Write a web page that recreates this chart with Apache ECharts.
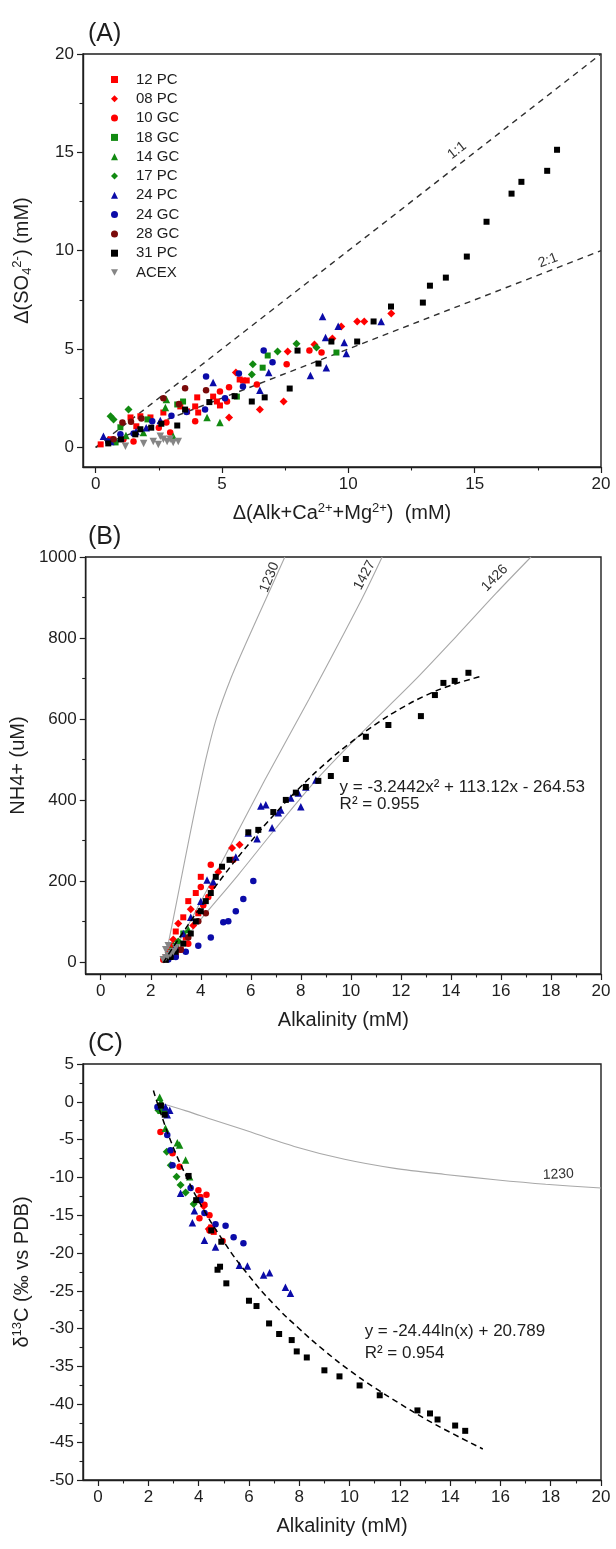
<!DOCTYPE html>
<html><head><meta charset="utf-8">
<script src="https://cdn.jsdelivr.net/npm/echarts@6/dist/echarts.min.js"></script>
<style>html,body{margin:0;padding:0;background:#fff}#c{width:616px;height:1549px}</style>
</head><body><div id="c"></div>
<script>
// ---------------- DATA ----------------
const seriesNames = ['12 PC','08 PC','10 GC','18 GC','14 GC','17 PC','24 PC','24 GC','28 GC','31 PC','ACEX'];

// Panel A: Δ(Alk+Ca+Mg) vs Δ(SO4)
const A_12PC = [[5.7,3.45],[5.83,3.4],[5.98,3.4],[4.65,2.58],[4.8,2.33],[4.92,2.13],[4.02,2.54],[3.94,2.08],[4.06,1.77],[3.35,2.08],[3.62,1.83],[2.68,1.77],[2.17,1.52],[1.77,1.58],[1.38,1.52],[1.61,1.07],[0.59,0.41],[0.2,0.15]];
const A_08PC = [[10.35,6.4],[10.63,6.4],[9.72,6.14],[9.37,5.53],[8.66,5.23],[7.44,2.33],[6.5,1.92],[5.28,1.52],[11.7,6.8],[7.6,4.87],[5.55,3.8]];
const A_10GC = [[8.46,4.92],[8.94,4.82],[7.56,4.22],[6.38,3.2],[5.28,3.05],[4.92,2.84],[5.2,2.33],[3.94,1.32],[2.8,1.26],[2.95,0.76],[1.5,0.3],[1.1,0.41],[2.5,1.0]];
const A_18GC = [[6.81,4.67],[6.61,4.05],[9.53,4.82],[5.59,2.58],[3.46,2.33],[2.05,1.42],[0.98,1.02],[0.79,0.25],[3.23,2.18]];
const A_14GC = [[4.41,1.52],[4.92,1.26],[3.07,0.56],[2.76,2.03],[1.89,0.76],[2.8,2.43],[1.2,0.6]];
const A_17PC = [[7.95,5.27],[7.2,4.87],[6.22,4.22],[6.18,3.7],[8.74,5.07],[1.3,1.92],[0.59,1.58],[0.71,1.42]];
const A_24PC = [[8.98,6.65],[9.1,5.58],[9.84,5.33],[9.92,4.77],[9.13,4.05],[8.5,3.65],[6.85,3.8],[6.5,2.9],[4.65,3.3],[2.56,1.37],[0.31,0.56],[11.3,6.4],[9.6,6.16],[1.0,0.5],[0.6,0.3],[1.6,0.8],[2.0,1.0]];
const A_24GC = [[6.65,4.92],[7.0,4.32],[5.67,3.75],[4.37,3.6],[5.83,3.09],[5.12,2.49],[4.33,1.92],[2.24,1.32],[0.98,0.66],[0.5,0.3],[1.5,0.7],[3.0,1.6],[3.6,1.8]];
const A_28GC = [[3.54,3.0],[4.37,2.9],[2.68,2.49],[1.81,1.47],[1.06,1.26],[0.71,0.41],[3.3,2.2],[1.4,1.3]];
const A_31PC = [[0.5,0.2],[1.0,0.4],[1.57,0.66],[1.77,0.92],[2.2,1.0],[2.6,1.2],[3.23,1.11],[3.54,1.92],[4.5,2.3],[5.5,2.6],[6.18,2.33],[6.69,2.54],[7.68,2.99],[7.99,4.92],[8.82,4.26],[9.33,5.38],[10.35,5.38],[11.0,6.4],[11.69,7.16],[12.95,7.36],[13.23,8.22],[13.86,8.63],[14.69,9.7],[15.47,11.47],[16.46,12.9],[16.85,13.5],[17.87,14.06],[18.26,15.13]];
const A_ACEX = [[2.28,0.3],[2.48,0.15],[2.68,0.41],[2.83,0.3],[2.95,0.41],[3.07,0.25],[3.27,0.3],[2.56,0.56],[1.18,0.05],[1.9,0.2]];
const A_line11 = [[0,0],[20,20]];
const A_line21 = [[0,0],[20,10]];

// Panel B: Alkalinity vs NH4+
const B_12PC = [[4.0,210],[3.8,170],[3.5,150],[3.3,110],[3.0,75],[2.8,40],[2.6,12],[3.4,60],[3.9,120],[3.2,30]];
const B_08PC = [[5.25,281],[5.55,289],[4.7,222],[4.45,185],[3.6,130],[3.1,95],[2.9,55],[3.7,90]];
const B_10GC = [[5.3,252],[4.0,185],[4.4,240],[4.1,140],[2.7,25],[2.5,5],[3.0,15],[3.5,45],[4.3,160]];
const B_18GC = [[3.0,40],[3.3,70]];
const B_14GC = [[2.8,30],[3.5,80]];
const B_17PC = [[2.6,10],[3.1,50]];
const B_24PC = [[8.6,449],[8.2,432],[7.9,417],[7.6,405],[8.0,383],[7.2,375],[6.4,385],[6.6,388],[7.1,368],[6.85,331],[5.9,318],[6.25,304],[5.4,259],[4.25,202],[4.5,198],[4.0,150],[3.6,110],[3.3,70],[3.0,40],[2.8,20]];
const B_24GC = [[6.1,200],[5.7,155],[5.4,125],[5.1,100],[4.9,98],[4.4,60],[3.9,40],[3.4,25],[3.0,12],[2.7,6]];
const B_28GC = [[3.5,60],[3.9,100],[4.2,120],[3.2,30]];
const B_31PC = [[14.7,714],[14.15,694],[13.7,689],[13.36,659],[12.8,607],[11.5,585],[10.6,556],[9.8,501],[9.2,459],[8.7,447],[8.2,432],[7.8,418],[7.4,400],[6.9,370],[6.3,326],[5.9,320],[5.15,252],[4.85,235],[4.6,210],[4.4,170],[4.2,150],[4.0,125],[3.8,100],[3.6,70],[3.3,45],[3.0,25],[2.8,12],[2.6,5]];
const B_ACEX = [[2.5,5],[2.6,10],[2.7,15],[2.8,20],[2.9,25],[2.6,30],[3.0,35],[2.7,40]];
const B_curve1230 = [[2.55,0],[2.88,100],[3.2,200],[3.52,300],[3.85,400],[4.2,500],[4.62,600],[5.2,700],[5.9,800],[6.63,900],[7.36,1000]];
const B_curve1427 = [[2.7,0],[4.53,210],[6.56,449],[8.31,647],[10.42,894],[11.25,1000]];
const B_curve1426 = [[2.6,0],[4,105],[5.5,215],[7,330],[8.7,455],[10.5,570],[12.5,692],[14.2,803],[15.8,910],[17.2,1000]];
const B_fit = [[2.5,-2],[3,46],[4,136],[5,220],[6,297],[7,368],[8,433],[9,491],[10,542],[11,587],[12,626],[13,658],[14,683],[15.2,705]];

// Panel C: Alkalinity vs δ13C
const C_12PC = [[4.5,-16.6],[4.6,-17.2]];
const C_08PC = [[4.4,-16.8],[4.2,-13.8]];
const C_10GC = [[2.48,-4],[2.96,-6.8],[3.24,-8.6],[3.99,-11.7],[4.31,-12.3],[4.07,-12.6],[4.23,-13.6],[4.43,-15],[4.03,-15.4],[4.43,-17],[4.55,-17],[4.95,-18.4]];
const C_18GC = [[2.65,-1.1]];
const C_14GC = [[2.45,0.6],[2.5,0],[2.5,-1.1],[2.68,-3.5],[3.24,-5.7],[3.15,-5.4],[3.48,-7.7],[3.64,-9.9]];
const C_17PC = [[2.4,-1.1],[2.73,-6.6],[2.89,-8.4],[3.12,-9.9],[3.28,-11],[3.48,-12],[3.8,-13.5]];
const C_24PC = [[2.68,-0.7],[2.85,-1.1],[2.75,-1.7],[3.28,-12.1],[3.83,-14.4],[3.75,-16],[4.23,-18.3],[4.67,-19.2],[5.62,-21.6],[5.94,-21.7],[6.58,-22.9],[6.82,-22.6],[7.45,-24.5],[7.65,-25.3]];
const C_24GC = [[2.36,-0.7],[2.75,-4.4],[2.88,-6.4],[2.96,-8.4],[3.68,-11.4],[4.07,-13],[4.23,-14.7],[4.67,-16.2],[5.07,-16.4],[5.39,-17.9],[5.78,-18.7]];
const C_28GC = [];
const C_31PC = [[2.5,-0.5],[2.65,-1.7],[3.6,-9.8],[3.9,-13],[4.5,-17],[4.9,-18.5],[4.75,-22.2],[4.85,-21.8],[5.1,-24],[6.0,-26.3],[6.3,-27.0],[6.8,-29.3],[7.2,-30.7],[7.7,-31.5],[7.9,-33.0],[8.3,-33.8],[9.0,-35.5],[9.6,-36.3],[10.4,-37.5],[11.2,-38.8],[12.7,-40.8],[13.2,-41.2],[13.5,-42],[14.2,-42.8],[14.6,-43.5]];
const C_ACEX = [];
const C_curve1230 = [[2.5,-0.2],[3.5,-1.2],[4.5,-2.3],[5.8,-3.7],[7.8,-5.9],[9.8,-7.6],[11.8,-8.8],[13.8,-9.6],[15.8,-10.3],[17.8,-10.9],[20,-11.4]];
const C_fit = [[2.2,1.5],[2.5,-1.6],[3,-6.1],[3.5,-9.8],[4,-13.1],[5,-18.5],[6,-23.0],[7,-26.8],[8,-30.0],[9,-32.9],[10,-35.5],[11,-37.8],[12,-39.9],[13,-41.9],[14,-43.7],[15.3,-45.9]];

// tick labels
const A_xTicks = [0,5,10,15,20], A_xMinor = [2.5,7.5,12.5,17.5];
const A_yTicks = [0,5,10,15,20], A_yMinor = [2.5,7.5,12.5,17.5];
const B_xTicks = [0,2,4,6,8,10,12,14,16,18,20], B_xMinor = [1,3,5,7,9,11,13,15,17,19];
const B_yTicks = [0,200,400,600,800,1000], B_yMinor = [100,300,500,700,900];
const C_xTicks = B_xTicks, C_xMinor = B_xMinor;
const C_yTicks = [5,0,-5,-10,-15,-20,-25,-30,-35,-40,-45,-50], C_yMinor = [2.5,-2.5,-7.5,-12.5,-17.5,-22.5,-27.5,-32.5,-37.5,-42.5,-47.5];

// ---------------- STYLE ----------------
const FONT = '"Liberation Sans", Arial, Helvetica, sans-serif';
const INK = '#1e1e1e';
const seriesColors = ['#ff0000','#ff0000','#ff0000','#118a11','#118a11','#118a11','#0b0ba8','#0b0ba8','#7a0a0a','#000000','#858585'];
const INV_TRI = 'path://M0,0L10,0L5,9Z';
const seriesSymbols = ['rect','diamond','circle','rect','triangle','diamond','triangle','circle','circle','rect',INV_TRI];
const seriesSizes = [6,8,6.5,6,7.5,8,7.5,6.5,6.5,6,7.5];
const panelData = [
  [A_12PC,A_08PC,A_10GC,A_18GC,A_14GC,A_17PC,A_24PC,A_24GC,A_28GC,A_31PC,A_ACEX],
  [B_12PC,B_08PC,B_10GC,B_18GC,B_14GC,B_17PC,B_24PC,B_24GC,B_28GC,B_31PC,B_ACEX],
  [C_12PC,C_08PC,C_10GC,C_18GC,C_14GC,C_17PC,C_24PC,C_24GC,C_28GC,C_31PC,C_ACEX]
];

const grids = [
  {left:82, top:54, width:519, height:413},
  {left:83, top:557, width:518, height:417},
  {left:83, top:1064, width:518, height:416}
];
const ranges = [
  {x:[-0.5,20], y:[-1,20]},
  {x:[-0.6,20], y:[-30,1000]},
  {x:[-0.6,20], y:[-50,5]}
];
const ticks = [
  {x:A_xTicks, xm:A_xMinor, y:A_yTicks, ym:A_yMinor},
  {x:B_xTicks, xm:B_xMinor, y:B_yTicks, ym:B_yMinor},
  {x:C_xTicks, xm:C_xMinor, y:C_yTicks, ym:C_yMinor}
];
const richBase = {
  t:{fontSize:20, fontFamily:FONT, color:INK, lineHeight:28},
  sup:{fontSize:13, fontFamily:FONT, color:INK, lineHeight:28, verticalAlign:'top', padding:[3,0,0,0]},
  sub:{fontSize:13, fontFamily:FONT, color:INK, lineHeight:28, verticalAlign:'bottom', padding:[0,0,2,0]}
};
const names = [
  {x:'{t|Δ(Alk+Ca}{sup|2+}{t|+Mg}{sup|2+}{t|)  (mM)}', y:'{t|Δ(SO}{sub|4}{sup|2-}{t|) (mM)}'},
  {x:'{t|Alkalinity (mM)}', y:'{t|NH4+ (uM)}'},
  {x:'{t|Alkalinity (mM)}', y:'{t|δ}{sup|13}{t|C (‰ vs PDB)}'}
];
const yNameGap = [47, 50, 47];
const xNameGap = 32;

const axisLineStyle = {color:INK, width:1.4};
function mainAxis(dim, gi) {
  const r = ranges[gi][dim], t = ticks[gi][dim];
  return {
    type:'value', gridIndex:gi, min:r[0], max:r[1],
    position: dim==='x' ? 'bottom' : 'left',
    axisLine:{show:true, onZero:false, lineStyle:axisLineStyle},
    splitLine:{show:false},
    axisTick:{show:true, length:6, customValues:t, lineStyle:{color:INK, width:1.2}},
    axisLabel:{customValues:t, fontSize:17, fontFamily:FONT, color:INK, margin:9,
      formatter: v => String(v)},
    name: names[gi][dim], nameLocation:'middle',
    nameGap: dim==='x' ? xNameGap : yNameGap[gi],
    nameRotate: dim==='x' ? 0 : 90,
    nameTextStyle:{rich:richBase}
  };
}
function minorAxis(dim, gi) {
  const r = ranges[gi][dim], t = ticks[gi][dim+'m'];
  return {
    type:'value', gridIndex:gi, min:r[0], max:r[1],
    position: dim==='x' ? 'bottom' : 'left',
    axisLine:{show:false, onZero:false}, splitLine:{show:false}, axisLabel:{show:false},
    axisTick:{show:true, length:3.5, customValues:t, lineStyle:{color:INK, width:1.1}}
  };
}

const xAxis = [0,1,2].map(g=>mainAxis('x',g)).concat([0,1,2].map(g=>minorAxis('x',g)));
const yAxis = [0,1,2].map(g=>mainAxis('y',g)).concat([0,1,2].map(g=>minorAxis('y',g)));

const series = [];
function lineSeries(gi, data, color, width, dash, smooth, z) {
  series.push({type:'line', xAxisIndex:gi, yAxisIndex:gi, data, showSymbol:false, symbol:'none',
    smooth: smooth, silent:true, z: z || 1,
    lineStyle:{color, width, type: dash ? dash : 'solid'}});
}
// reference curves / fits under the markers
lineSeries(0, A_line11, '#303030', 1.4, [6,5], false);
lineSeries(0, A_line21, '#303030', 1.4, [6,5], false);
lineSeries(1, B_curve1230, '#a8a8a8', 1.1, null, 0.3);
lineSeries(1, B_curve1427, '#a8a8a8', 1.1, null, 0.3);
lineSeries(1, B_curve1426, '#a8a8a8', 1.1, null, 0.3);
lineSeries(2, C_curve1230, '#a8a8a8', 1.1, null, 0.3);

for (let p = 0; p < 3; p++) {
  seriesNames.forEach((nm, i) => {
    series.push({
      type:'scatter', name:nm, xAxisIndex:p, yAxisIndex:p, data:panelData[p][i],
      symbol:seriesSymbols[i], symbolSize:seriesSizes[i],
      itemStyle:{color:seriesColors[i], opacity:1}, z:3
    });
  });
}
lineSeries(1, B_fit, '#000', 1.5, [6,4], true, 4);
lineSeries(2, C_fit, '#000', 1.5, [6,4], true, 4);

const option = {
  animation:false,
  backgroundColor:'#fff',
  grid: grids.map(g => Object.assign({show:true, borderColor:INK, borderWidth:1.4, backgroundColor:'transparent'}, g)),
  xAxis, yAxis, series,
  legend:{
    data: seriesNames, orient:'vertical', left:106, top:67,
    itemWidth:7, itemHeight:7, itemGap:4.3, selectedMode:false,
    textStyle:{fontSize:15, fontFamily:FONT, color:INK, lineHeight:15, padding:[0,0,0,13]}
  }
};

const chart = echarts.init(document.getElementById('c'));
chart.setOption(option);

// ---------------- ANNOTATIONS ----------------
const panelLetters = [{t:'(A)', x:88, y:22},{t:'(B)', x:88, y:525},{t:'(C)', x:88, y:1032}];
const curveLabels = [
  {g:0, x:14.3, y:15.1, t:'1:1', rot:38},
  {g:0, x:17.9, y:9.5, t:'2:1', rot:21},
  {g:1, x:6.75, y:950, t:'1230', rot:68},
  {g:1, x:10.55, y:955, t:'1427', rot:62},
  {g:1, x:15.75, y:948, t:'1426', rot:46},
  {g:2, x:18.3, y:-9.6, t:'1230', rot:3}
];
const equations = [
  {g:1, x:9.55, y:432, t:'y = -3.2442x² + 113.12x - 264.53'},
  {g:1, x:9.55, y:390, t:'R² = 0.955'},
  {g:2, x:10.6, y:-30.4, t:'y = -24.44ln(x) + 20.789'},
  {g:2, x:10.6, y:-33.3, t:'R² = 0.954'}
];
const graphic = [];
panelLetters.forEach(l => graphic.push({type:'text', x:l.x, y:l.y,
  style:{text:l.t, fontSize:25, fontFamily:FONT, fill:INK, align:'left', verticalAlign:'top'}}));
curveLabels.forEach(l => {
  const p = chart.convertToPixel({gridIndex:l.g}, [l.x, l.y]);
  graphic.push({type:'text', x:p[0], y:p[1], rotation:l.rot*Math.PI/180,
    style:{text:l.t, fontSize:14, fontFamily:FONT, fill:'#333', align:'center', verticalAlign:'middle'}});
});
equations.forEach(l => {
  const p = chart.convertToPixel({gridIndex:l.g}, [l.x, l.y]);
  graphic.push({type:'text', x:p[0], y:p[1],
    style:{text:l.t, fontSize:17, fontFamily:FONT, fill:INK, align:'left', verticalAlign:'middle'}});
});
chart.setOption({graphic});
</script>
</body></html>
